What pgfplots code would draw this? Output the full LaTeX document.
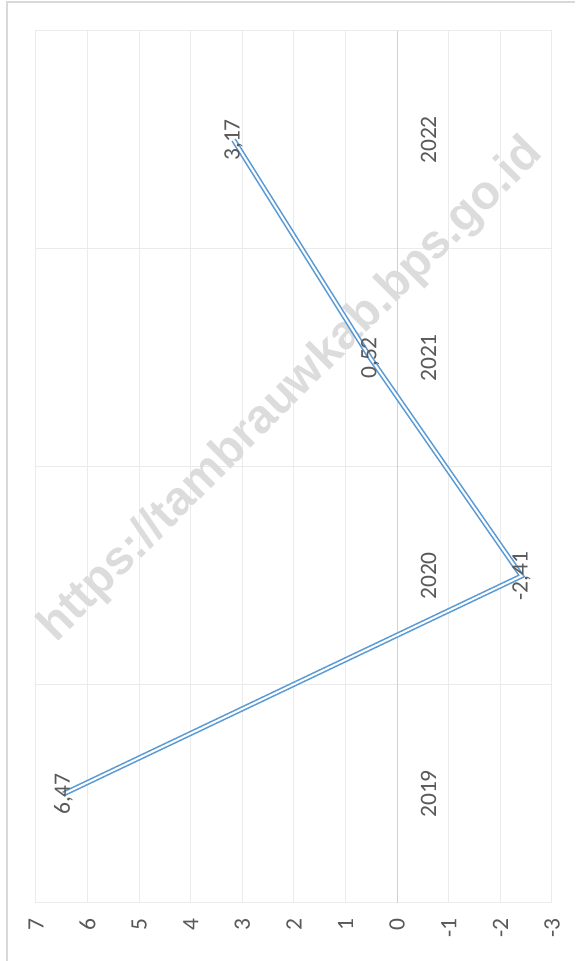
\documentclass[border=0pt]{standalone}
\usepackage{pgfplots}
\pgfplotsset{compat=1.18}
\usepackage{pgfplotstable}
\usepackage{fontspec}
\setmainfont{Carlito}
\newfontfamily\wmfont{Liberation Sans}
\definecolor{linec}{HTML}{5B9BD5}
\definecolor{txt}{HTML}{595959}
\definecolor{gridc}{HTML}{EBEBEB}
\definecolor{zeroc}{HTML}{D0D0D0}
\definecolor{framec}{HTML}{D9D9D9}
\definecolor{wmc}{HTML}{DCDCDC}

\pgfplotstableread{
val idx lab
6.47 0 6,47
-2.41 1 -2,41
0.52 2 0,52
3.17 3 3,17
}\datatab
\pgfplotstableread{
val idx lab
-0.61 0 2019
-0.61 1 2020
-0.61 2 2021
-0.61 3 2022
}\cattab

\begin{document}
\begin{tikzpicture}
\useasboundingbox (-18pt,-29pt) rectangle (269.5pt,451.5pt);
\draw[framec, line width=1pt] (-14.5pt,-29pt) -- (-14.5pt,450.5pt) -- (269.5pt,450.5pt);
\begin{axis}[
  at={(0,0)}, anchor=south west,
  scale only axis, width=258pt, height=436pt,
  x dir=reverse,
  xmin=-3, xmax=7, ymin=-0.5, ymax=3.5,
  xtick={-3,-2,-1,0,1,2,3,4,5,6,7},
  xticklabels={-3,-2,-1,0,1,2,3,4,5,6,7},
  ytick={0.5,1.5,2.5}, yticklabels={},
  xmajorgrids, ymajorgrids,
  major grid style={gridc, line width=0.5pt},
  axis line style={gridc, line width=0.5pt},
  major tick length=0pt,
  xticklabel style={rotate=90, anchor=east, inner sep=0pt, font=\fontsize{11.75}{14}\selectfont, text=txt},
  xticklabel shift=7.5pt,
  extra x ticks={0}, extra x tick labels={},
  extra x tick style={major grid style={zeroc, line width=0.6pt}},
  clip=false,
]
\node[rotate=45, text=wmc, font=\wmfont\bfseries\fontsize{23.8}{28}\selectfont] at (axis cs:2.05,1.85) {https://tambrauwkab.bps.go.id};
\addplot[draw=linec, line width=0.8pt, double=white, double distance=1pt, mark=none] table[x=val,y=idx] {\datatab};
\addplot[draw=none, mark=none, nodes near coords, point meta=explicit symbolic,
  nodes near coords style={rotate=90, anchor=center, inner sep=0pt, font=\fontsize{11.75}{14}\selectfont, text=txt}]
  table[x=val,y=idx,meta=lab] {\datatab};
\addplot[draw=none, mark=none, nodes near coords, point meta=explicit symbolic,
  nodes near coords style={rotate=90, anchor=center, inner sep=0pt, font=\fontsize{11.75}{14}\selectfont, text=txt}]
  table[x=val,y=idx,meta=lab] {\cattab};
\end{axis}
\end{tikzpicture}
\end{document}
